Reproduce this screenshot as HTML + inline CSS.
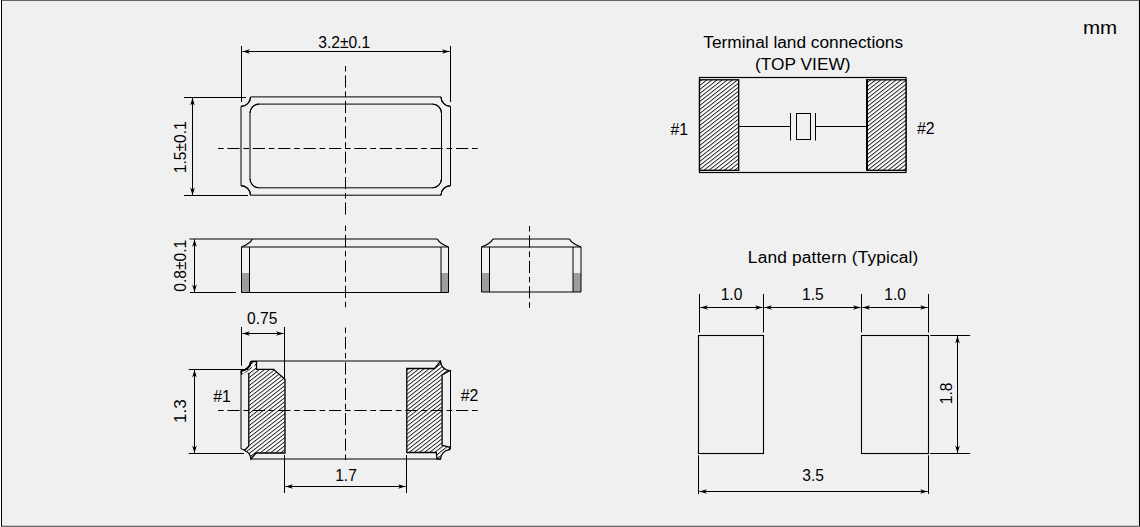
<!DOCTYPE html>
<html><head><meta charset="utf-8"><style>
html,body{margin:0;padding:0;width:1140px;height:527px;overflow:hidden;background:#f0f0f0;font-family:"Liberation Sans",sans-serif}
.b{position:absolute}
</style></head><body>
<svg width="1140" height="527" viewBox="0 0 1140 527" style="position:absolute;left:0;top:0" font-family="Liberation Sans, sans-serif" fill="#000">
<defs><pattern id="hatch" patternUnits="userSpaceOnUse" width="3.15" height="3.15" patternTransform="rotate(-38)"><rect width="3.15" height="3.15" fill="#fff"/><line x1="0" y1="0.5" x2="3.15" y2="0.5" stroke="#000" stroke-width="0.85"/></pattern></defs>
<line x1="241.5" y1="46" x2="241.5" y2="102" stroke="#000" stroke-width="1" />
<line x1="450.5" y1="46" x2="450.5" y2="102" stroke="#000" stroke-width="1" />
<line x1="242.4" y1="51.5" x2="449.6" y2="51.5" stroke="#000" stroke-width="1" />
<path d="M242.40 51.50 L250.00 49.20 L247.87 51.50 L250.00 53.80 Z" fill="#000"/>
<path d="M449.60 51.50 L442.00 53.80 L444.13 51.50 L442.00 49.20 Z" fill="#000"/>
<text x="344.2" y="47.7" font-size="15.6" text-anchor="middle" >3.2±0.1</text>
<line x1="184" y1="97.5" x2="246" y2="97.5" stroke="#000" stroke-width="1" />
<line x1="184" y1="195.5" x2="248" y2="195.5" stroke="#000" stroke-width="1" />
<line x1="192.5" y1="97.8" x2="192.5" y2="195.2" stroke="#000" stroke-width="1" />
<path d="M192.50 97.80 L194.80 105.40 L192.50 103.27 L190.20 105.40 Z" fill="#000"/>
<path d="M192.50 195.20 L190.20 187.60 L192.50 189.73 L194.80 187.60 Z" fill="#000"/>
<text x="185.6" y="147.3" font-size="15.6" text-anchor="middle" transform="rotate(-90 185.6 147.3)" >1.5±0.1</text>
<path d="M250.5 96.9 L441.0 96.9 A9.5 9.5 0 0 0 450.5 106.4 L450.5 185.7 A9.5 9.5 0 0 0 441.0 195.2 L250.5 195.2 A9.5 9.5 0 0 0 241.0 185.7 L241.0 106.4 A9.5 9.5 0 0 0 250.5 96.9 Z" stroke="#000" stroke-width="1" fill="none" />
<rect x="250" y="104.1" width="191.5" height="83.7" rx="9" ry="9" fill="none" stroke="#000" stroke-width="1"/>
<path d="M441.0 96.9 A9.5 9.5 0 0 0 450.5 106.4 M450.5 185.7 A9.5 9.5 0 0 0 441.0 195.2 M250.5 195.2 A9.5 9.5 0 0 0 241.0 185.7 M241.0 106.4 A9.5 9.5 0 0 0 250.5 96.9" stroke="#000" stroke-width="1.25" fill="none" />
<path d="M432.5 104.1 A9 9 0 0 1 441.5 113.1 M441.5 178.8 A9 9 0 0 1 432.5 187.8 M259 187.8 A9 9 0 0 1 250 178.8 M250 113.1 A9 9 0 0 1 259 104.1" stroke="#000" stroke-width="1.12" fill="none" />
<line x1="218" y1="148.5" x2="478" y2="148.5" stroke="#000" stroke-width="1" stroke-dasharray="5.6 3.8 12.2 3.8"/>
<line x1="345.5" y1="66" x2="345.5" y2="215" stroke="#000" stroke-width="1" stroke-dasharray="5.6 3.8 12.2 3.8"/>
<line x1="189.5" y1="239" x2="252.5" y2="239" stroke="#000" stroke-width="1" />
<path d="M252.5 239 L437.2 239" stroke="#000" stroke-width="1" fill="none" />
<path d="M252.5 239 Q249.8 243.8 241.5 247" stroke="#000" stroke-width="1.25" fill="none" />
<path d="M437.2 239 Q439.9 243.8 448.5 247" stroke="#000" stroke-width="1.25" fill="none" />
<rect x="241.5" y="273" width="8" height="19.5" fill="#9c9e9c"/>
<rect x="441" y="273" width="7.5" height="19.5" fill="#9c9e9c"/>
<path d="M241.5 247 L448.5 247" stroke="#000" stroke-width="1" fill="none" />
<path d="M241.5 247 L241.5 292.5 L448.5 292.5 L448.5 247" stroke="#000" stroke-width="1" fill="none" />
<line x1="249.5" y1="247" x2="249.5" y2="292.5" stroke="#000" stroke-width="1" />
<line x1="441" y1="247" x2="441" y2="292.5" stroke="#000" stroke-width="1" />
<line x1="190" y1="292.5" x2="236" y2="292.5" stroke="#000" stroke-width="1" />
<line x1="194.5" y1="239.3" x2="194.5" y2="292.2" stroke="#000" stroke-width="1" />
<path d="M194.50 239.30 L196.80 246.90 L194.50 244.77 L192.20 246.90 Z" fill="#000"/>
<path d="M194.50 292.20 L192.20 284.60 L194.50 286.73 L196.80 284.60 Z" fill="#000"/>
<text x="185.6" y="265.8" font-size="15.6" text-anchor="middle" transform="rotate(-90 185.6 265.8)" >0.8±0.1</text>
<line x1="345.5" y1="225.5" x2="345.5" y2="308" stroke="#000" stroke-width="1" stroke-dasharray="5.6 3.8 12.2 3.8"/>
<path d="M493 239 L569.4 239" stroke="#000" stroke-width="1" fill="none" />
<path d="M493 239 Q490.3 243.8 481.5 247" stroke="#000" stroke-width="1.25" fill="none" />
<path d="M569.4 239 Q572.1 243.8 581 247" stroke="#000" stroke-width="1.25" fill="none" />
<rect x="481.5" y="273" width="8" height="19" fill="#9c9e9c"/>
<rect x="573" y="273" width="8" height="19" fill="#9c9e9c"/>
<path d="M481.5 247 L581 247" stroke="#000" stroke-width="1" fill="none" />
<path d="M481.5 247 L481.5 292 L581 292 L581 247" stroke="#000" stroke-width="1" fill="none" />
<line x1="489.5" y1="247" x2="489.5" y2="292" stroke="#000" stroke-width="1" />
<line x1="573" y1="247" x2="573" y2="292" stroke="#000" stroke-width="1" />
<line x1="529.5" y1="226" x2="529.5" y2="308" stroke="#000" stroke-width="1" stroke-dasharray="5.6 3.8 12.2 3.8"/>
<path d="M251 361 L440.5 361 A10 10 0 0 0 450.5 371 L450.5 449 A10 10 0 0 0 440.5 459 L251 459 A10 10 0 0 0 241 449 L241 371 A10 10 0 0 0 251 361 Z" stroke="#000" stroke-width="1" fill="none" />
<path d="M248.8 373 L241.6 374 L241.2 370.8 A10 10 0 0 0 251 361.6 L256.5 361.6 L256.5 369.3 L273.6 369.3 L285 379.3 L285 453 L256 453 L251 459 A10 10 0 0 0 244.5 450.5 L248.8 446 Z" stroke="#000" stroke-width="1.3" fill="url(#hatch)" />
<path d="M242.4 374.4 A13.5 13.5 0 0 0 254.4 362.6" stroke="#fff" stroke-width="1.5" fill="none" />
<path d="M241.3 370.6 A9.8 9.8 0 0 0 250.8 361.6" stroke="#000" stroke-width="1.9" fill="none" />
<path d="M406.8 368.5 L434.7 368.5 L440.4 361.2 A10 10 0 0 0 449.8 370.6 L442.1 375 L442.1 445.3 L449.3 447 L449.6 449.6 A10 10 0 0 0 440.5 459 L437 459 L436.3 452.5 L406.8 452.5 Z" stroke="#000" stroke-width="1.3" fill="url(#hatch)" />
<line x1="241.5" y1="327" x2="241.5" y2="365.7" stroke="#000" stroke-width="1" />
<line x1="284.5" y1="327" x2="284.5" y2="379" stroke="#000" stroke-width="1" />
<line x1="284.5" y1="455.2" x2="284.5" y2="493" stroke="#000" stroke-width="1" />
<line x1="242.4" y1="333.5" x2="283.6" y2="333.5" stroke="#000" stroke-width="1" />
<path d="M242.40 333.50 L250.00 331.20 L247.87 333.50 L250.00 335.80 Z" fill="#000"/>
<path d="M283.60 333.50 L276.00 335.80 L278.13 333.50 L276.00 331.20 Z" fill="#000"/>
<text x="262.2" y="323.6" font-size="15.6" text-anchor="middle" >0.75</text>
<line x1="188.7" y1="369.5" x2="248" y2="369.5" stroke="#000" stroke-width="1" />
<line x1="188.7" y1="453.5" x2="244" y2="453.5" stroke="#000" stroke-width="1" />
<line x1="194.5" y1="369.8" x2="194.5" y2="453.2" stroke="#000" stroke-width="1" />
<path d="M194.50 369.80 L196.80 377.40 L194.50 375.27 L192.20 377.40 Z" fill="#000"/>
<path d="M194.50 453.20 L192.20 445.60 L194.50 447.73 L196.80 445.60 Z" fill="#000"/>
<text x="186.3" y="411.2" font-size="17" text-anchor="middle" transform="rotate(-90 186.3 411.2)" >1.3</text>
<line x1="406.5" y1="455" x2="406.5" y2="493" stroke="#000" stroke-width="1" />
<line x1="285.4" y1="486.5" x2="405.6" y2="486.5" stroke="#000" stroke-width="1" />
<path d="M285.40 486.50 L293.00 484.20 L290.87 486.50 L293.00 488.80 Z" fill="#000"/>
<path d="M405.60 486.50 L398.00 488.80 L400.13 486.50 L398.00 484.20 Z" fill="#000"/>
<text x="346" y="480.9" font-size="15.6" text-anchor="middle" >1.7</text>
<text x="222" y="402.1" font-size="15.8" text-anchor="middle" >#1</text>
<text x="469.6" y="401" font-size="15.8" text-anchor="middle" >#2</text>
<line x1="218" y1="410.5" x2="478" y2="410.5" stroke="#000" stroke-width="1" stroke-dasharray="5.6 3.8 12.2 3.8"/>
<line x1="345.5" y1="327.5" x2="345.5" y2="461" stroke="#000" stroke-width="1" stroke-dasharray="5.6 3.8 12.2 3.8"/>
<text x="803.2" y="48.4" font-size="17.3" text-anchor="middle" >Terminal land connections</text>
<text x="802.8" y="69.9" font-size="17.3" text-anchor="middle" >(TOP VIEW)</text>
<rect x="699.5" y="77.5" width="206.5" height="95" fill="none" stroke="#000" stroke-width="1.2"/>
<rect x="699.5" y="79.8" width="39.2" height="90.5" fill="url(#hatch)" stroke="#000" stroke-width="1.3"/>
<rect x="866.8" y="79.8" width="39.2" height="90.5" fill="url(#hatch)" stroke="#000" stroke-width="1.3"/>
<line x1="867" y1="79.5" x2="867" y2="170.6" stroke="#000" stroke-width="2" />
<line x1="738.7" y1="126.5" x2="790.5" y2="126.5" stroke="#000" stroke-width="1" />
<line x1="815.5" y1="126.5" x2="866.8" y2="126.5" stroke="#000" stroke-width="1" />
<line x1="790.5" y1="113" x2="790.5" y2="140.5" stroke="#000" stroke-width="1" />
<line x1="815.5" y1="113" x2="815.5" y2="140.5" stroke="#000" stroke-width="1" />
<rect x="796.5" y="113.5" width="14" height="26" fill="none" stroke="#000" stroke-width="1"/>
<text x="679.3" y="134.6" font-size="15.8" text-anchor="middle" >#1</text>
<text x="925.7" y="133.9" font-size="15.8" text-anchor="middle" >#2</text>
<text x="833.2" y="262.8" font-size="17.3" text-anchor="middle" letter-spacing="0.16">Land pattern (Typical)</text>
<line x1="699.5" y1="294" x2="699.5" y2="332.5" stroke="#000" stroke-width="1" />
<line x1="763.5" y1="294" x2="763.5" y2="332.5" stroke="#000" stroke-width="1" />
<line x1="861.5" y1="294" x2="861.5" y2="332.5" stroke="#000" stroke-width="1" />
<line x1="928.5" y1="294" x2="928.5" y2="332.5" stroke="#000" stroke-width="1" />
<line x1="700.4" y1="307.5" x2="762.6" y2="307.5" stroke="#000" stroke-width="1" />
<path d="M700.40 307.50 L708.00 305.20 L705.87 307.50 L708.00 309.80 Z" fill="#000"/>
<path d="M762.60 307.50 L755.00 309.80 L757.13 307.50 L755.00 305.20 Z" fill="#000"/>
<line x1="764.4" y1="307.5" x2="860.6" y2="307.5" stroke="#000" stroke-width="1" />
<path d="M764.40 307.50 L772.00 305.20 L769.87 307.50 L772.00 309.80 Z" fill="#000"/>
<path d="M860.60 307.50 L853.00 309.80 L855.13 307.50 L853.00 305.20 Z" fill="#000"/>
<line x1="862.4" y1="307.5" x2="927.6" y2="307.5" stroke="#000" stroke-width="1" />
<path d="M862.40 307.50 L870.00 305.20 L867.87 307.50 L870.00 309.80 Z" fill="#000"/>
<path d="M927.60 307.50 L920.00 309.80 L922.13 307.50 L920.00 305.20 Z" fill="#000"/>
<text x="731.5" y="299.8" font-size="15.6" text-anchor="middle" >1.0</text>
<text x="812.9" y="299.8" font-size="15.6" text-anchor="middle" >1.5</text>
<text x="895.1" y="299.8" font-size="15.6" text-anchor="middle" >1.0</text>
<rect x="698.5" y="335.5" width="65" height="118" fill="none" stroke="#000" stroke-width="1.1"/>
<rect x="861.5" y="335.5" width="67" height="118" fill="none" stroke="#000" stroke-width="1.1"/>
<line x1="930.3" y1="335.5" x2="970.2" y2="335.5" stroke="#000" stroke-width="1" />
<line x1="930.3" y1="453.5" x2="970.2" y2="453.5" stroke="#000" stroke-width="1" />
<line x1="957.5" y1="335.8" x2="957.5" y2="453.2" stroke="#000" stroke-width="1" />
<path d="M957.50 335.80 L959.80 343.40 L957.50 341.27 L955.20 343.40 Z" fill="#000"/>
<path d="M957.50 453.20 L955.20 445.60 L957.50 447.73 L959.80 445.60 Z" fill="#000"/>
<text x="951.8" y="393.4" font-size="15.6" text-anchor="middle" transform="rotate(-90 951.8 393.4)" >1.8</text>
<line x1="698.5" y1="455.3" x2="698.5" y2="494" stroke="#000" stroke-width="1" />
<line x1="928.5" y1="455.3" x2="928.5" y2="494" stroke="#000" stroke-width="1" />
<line x1="699.4" y1="491.5" x2="927.6" y2="491.5" stroke="#000" stroke-width="1" />
<path d="M699.40 491.50 L707.00 489.20 L704.87 491.50 L707.00 493.80 Z" fill="#000"/>
<path d="M927.60 491.50 L920.00 493.80 L922.13 491.50 L920.00 489.20 Z" fill="#000"/>
<text x="813.1" y="481" font-size="15.6" text-anchor="middle" >3.5</text>
<text x="0" y="0" font-size="19.2" text-anchor="middle" transform="translate(1100.1 33.8) scale(1.07 1)" >mm</text>
</svg>
<div class="b" style="left:0;top:0;width:1px;height:527px;background:#fff"></div>
<div class="b" style="left:1px;top:0;width:1139px;height:1px;background:#646464"></div>
<div class="b" style="left:1px;top:525px;width:1138px;height:1px;background:#c4c4c4"></div>
<div class="b" style="left:1px;top:526px;width:1139px;height:1px;background:#6c6c6c"></div>
<div class="b" style="left:1px;top:0;width:1px;height:526px;background:#000"></div>
<div class="b" style="left:1138px;top:1px;width:1px;height:525px;background:#e2e2e2"></div>
<div class="b" style="left:1139px;top:0;width:1px;height:526px;background:#000"></div>
</body></html>
